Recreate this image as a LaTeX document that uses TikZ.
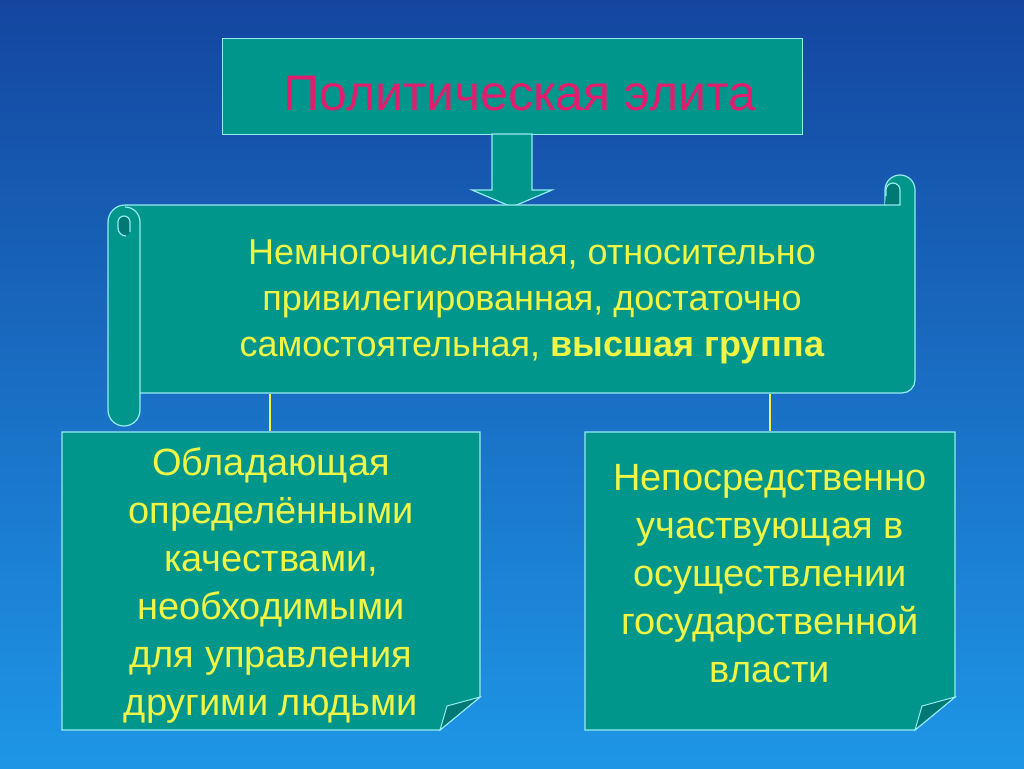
\documentclass[tikz,border=0pt]{standalone}
\usepackage{fontspec}
\setmainfont{Liberation Sans}
\definecolor{teal1}{RGB}{0,150,140}
\definecolor{teal2}{RGB}{0,120,115}
\definecolor{edge}{RGB}{150,235,240}
\definecolor{ylw}{RGB}{240,245,70}
\definecolor{mag}{RGB}{225,30,110}
\begin{document}
\begin{tikzpicture}[x=1pt,y=-1pt,
  box/.style={fill=teal1,draw=edge,line width=1.2pt},
  ytext/.style={text=ylw,align=center,font=\fontsize{38}{48}\selectfont},
  conn/.style={draw=ylw,line width=2pt}]
\shade[top color={rgb,255:red,20;green,70;blue,160},bottom color={rgb,255:red,30;green,150;blue,230}] (0,0) rectangle (1024,768);
\useasboundingbox (0,0) rectangle (1024,768);
% top box
\node[box,minimum width=580pt,minimum height=96pt,anchor=north west] (top) at (222,38) {};
\node[text=mag,font=\fontsize{50}{54}\selectfont] (toptxt) at (520,94) {Политическая элита};
% arrow
\draw[box] (492,134) -- (532,134) -- (532,190) -- (552,190) -- (512,207) -- (472,190) -- (492,190) -- cycle;
% scroll
\draw[box] (885,205) -- (885,190) arc[start angle=180,end angle=360,radius=15] -- (915,380) arc[start angle=0,end angle=90,radius=13] -- (140,393) -- (140,410) arc[start angle=0,end angle=180,radius=16] -- (108,222) arc[start angle=180,end angle=270,radius=17] -- cycle;
\draw[draw=edge,line width=1.2pt] (140,393) -- (140,222) arc[start angle=0,end angle=-90,radius=15];
\draw[draw=edge,line width=1.2pt,fill=teal2] (130,232) -- (130,222) arc[start angle=0,end angle=-180,radius=6] -- (118,228) arc[start angle=180,end angle=90,radius=8];
\draw[draw=edge,line width=1.2pt,fill=teal2] (885,205) -- (900,205) -- (900,190) arc[start angle=0,end angle=-180,radius=7] -- (886,196);
\node[ytext,font=\fontsize{36}{46}\selectfont] (mid) at (532,302) {Немногочисленная, относительно\\привилегированная, достаточно\\самостоятельная, \textbf{высшая группа}};
% boxes
\draw[box] (62,432) -- (480,432) -- (480,697) -- (440,730) -- (62,730) -- cycle;
\draw[draw=edge,line width=1pt,fill=teal2] (480,697) -- (447,706) -- (440,730) -- cycle;
\node[ytext] (Ltxt) at (271,585) {Обладающая\\определёнными\\качествами,\\необходимыми\\для управления\\другими людьми};
\draw[box] (585,432) -- (955,432) -- (955,697) -- (915,730) -- (585,730) -- cycle;
\draw[draw=edge,line width=1pt,fill=teal2] (955,697) -- (922,706) -- (915,730) -- cycle;
\node[ytext] (Rtxt) at (770,574) {Непосредственно\\участвующая в\\осуществлении\\государственной\\власти};
\coordinate (a1) at (270,394); \coordinate (a2) at (270,431);
\coordinate (b1) at (770,394); \coordinate (b2) at (770,431);
\draw[conn] (a1) -- (a2);
\draw[conn] (b1) -- (b2);
\end{tikzpicture}
\end{document}
